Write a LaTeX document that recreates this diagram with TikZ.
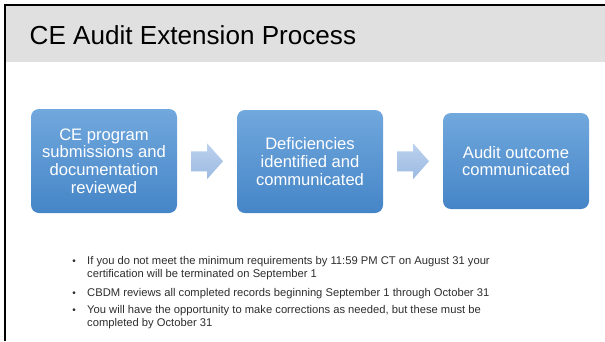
\documentclass[tikz,border=0pt]{standalone}
\usepackage{fontspec}
\setmainfont{Liberation Sans}
\usetikzlibrary{calc}
\definecolor{headgray}{HTML}{E0E0E0}
\definecolor{boxtop}{HTML}{71A8DD}
\definecolor{boxbot}{HTML}{4585C7}
\definecolor{arrtop}{HTML}{BCD1EE}
\definecolor{arrbot}{HTML}{9CBAE2}
\definecolor{bullettext}{HTML}{2E2E2E}
\tikzset{
  stepbox/.style={rounded corners=8pt, top color=boxtop, bottom color=boxbot,
    draw=none, text=white, align=center, inner sep=0pt,
    font=\fontsize{16.6}{17.6}\selectfont},
  flowarrow/.style={top color=arrtop, bottom color=arrbot, draw=none},
  bulletline/.style={anchor=base west, inner sep=0pt, text=bullettext,
    font=\fontsize{11.2}{13.4}\selectfont},
  bulletdot/.style={anchor=base, inner sep=0pt, text=bullettext,
    font=\fontsize{10}{13.4}\selectfont}
}
\begin{document}
\begin{tikzpicture}[x=1pt,y=-1pt]
\useasboundingbox (0,0) rectangle (605,341);
\fill[white] (0,0) rectangle (605,341);
% title band and frame
\fill[headgray] (5,5) rectangle (605,62);
\draw[line width=2pt] (5,341) -- (5,5) -- (605,5);
\node[anchor=west, inner sep=0pt, font=\fontsize{26.1}{30}\selectfont] (title) at (29.5,35) {CE Audit Extension Process};

% process boxes
\node[stepbox, minimum width=146pt, minimum height=104pt] (b1) at (104,161) {CE program\\submissions and\\documentation\\reviewed};
\node[stepbox, minimum width=146pt, minimum height=103pt] (b2) at (310,161.5) {Deficiencies\\identified and\\communicated};
\node[stepbox, minimum width=146pt, minimum height=96pt] (b3) at (516,161) {Audit outcome\\communicated};

% block arrows between the boxes
\coordinate (a1) at ($(b1.east)!0.5!(b2.west)$);
\coordinate (a2) at ($(b2.east)!0.5!(b3.west)$);
\foreach \a in {a1,a2}{
  \path[flowarrow] ($(\a)+(-16,-10)$) -- ++(16,0) -- ++(0,-8) -- ++(16,18)
    -- ++(-16,18) -- ++(0,-8) -- ++(-16,0) -- cycle;
}

% notes
\node[bulletdot] (d1) at (74,264) {•};
\node[bulletline] (t1a) at (87,264) {If you do not meet the minimum requirements by 11:59 PM CT on August 31 your};
\node[bulletline] (t1b) at (87,277.5) {certification will be terminated on September 1};
\node[bulletdot] (d2) at (74,296) {•};
\node[bulletline] (t2) at (87,296) {CBDM reviews all completed records beginning September 1 through October 31};
\node[bulletdot] (d3) at (74,313) {•};
\node[bulletline] (t3a) at (87,313) {You will have the opportunity to make corrections as needed, but these must be};
\node[bulletline] (t3b) at (87,326.5) {completed by October 31};
\end{tikzpicture}
\end{document}
